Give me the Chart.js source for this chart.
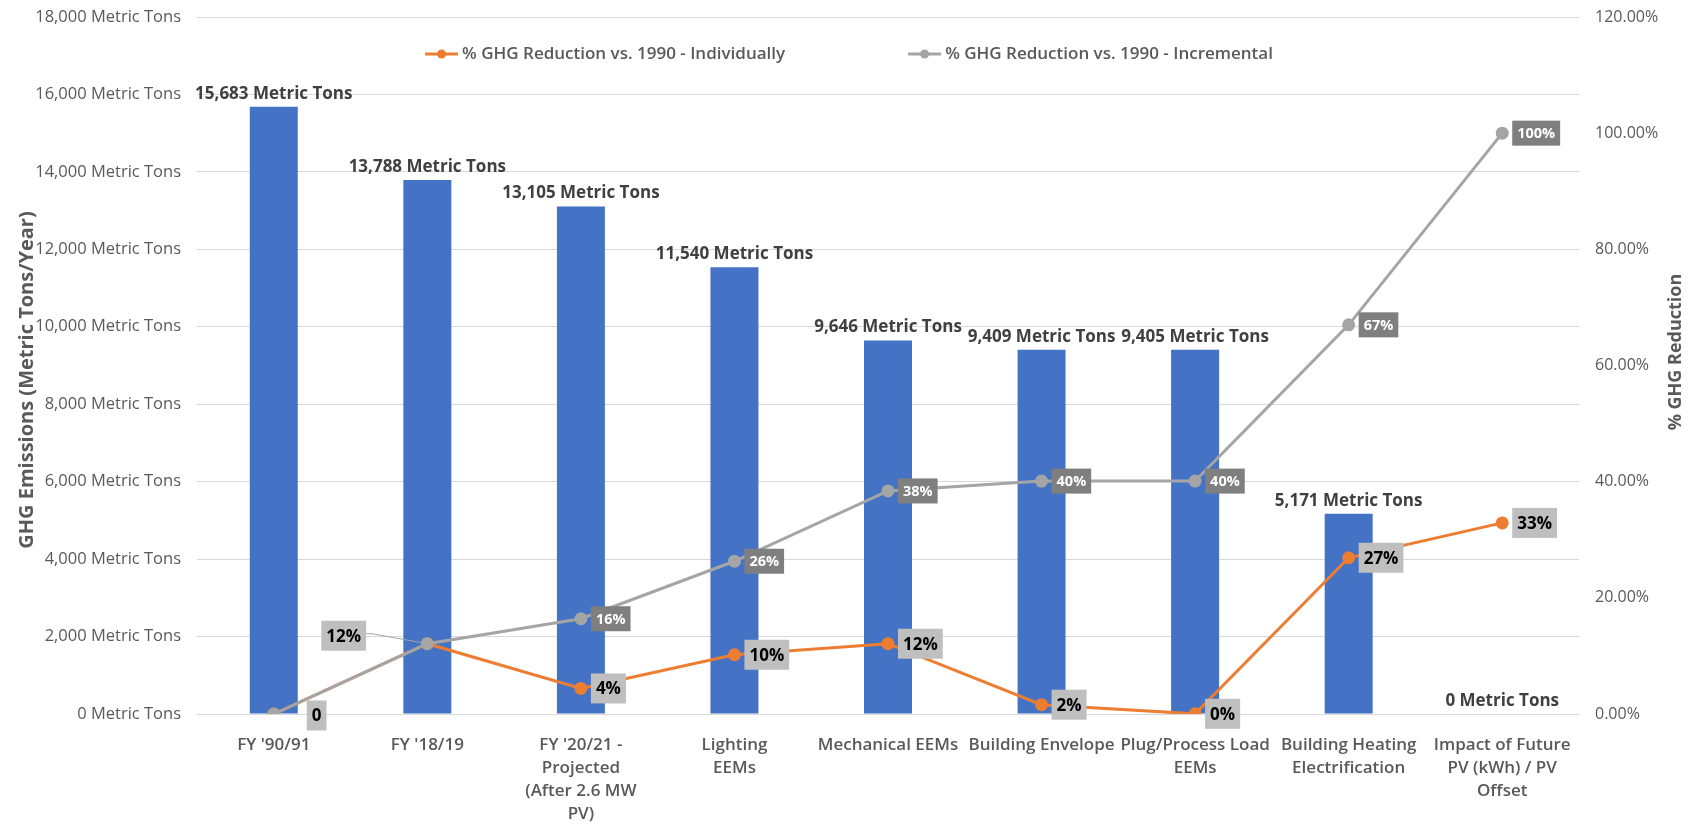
<!DOCTYPE html>
<html>
<head>
<meta charset="utf-8">
<title>GHG Emissions and Reduction</title>
<script src="https://cdn.jsdelivr.net/npm/chart.js@4.4.1/dist/chart.umd.min.js"></script>
<style>
  html, body { margin: 0; padding: 0; background: #ffffff; }
  #wrap { width: 1698px; height: 824px; }
</style>
</head>
<body>
<div id="wrap"><canvas id="chart" width="1698" height="824"></canvas></div>
<script>
// Categories along the x axis (multi-line labels)
const categories = [
  ["FY '90/91"],
  ["FY '18/19"],
  ["FY '20/21 -", "Projected", "(After 2.6 MW", "PV)"],
  ["Lighting", "EEMs"],
  ["Mechanical EEMs"],
  ["Building Envelope"],
  ["Plug/Process Load", "EEMs"],
  ["Building Heating", "Electrification"],
  ["Impact of Future", "PV (kWh) / PV", "Offset"]
];

// Annual GHG emissions, metric tons
const emissions = [15683, 13788, 13105, 11540, 9646, 9409, 9405, 5171, 0];

// % GHG reduction vs. 1990
const reductionIndividual = [0, 12.1, 4.4, 10.2, 12.1, 1.6, 0.03, 26.9, 32.9];
const reductionIncremental = [0, 12.1, 16.4, 26.3, 38.4, 40.1, 40.1, 67.0, 100.0];

// Axis ranges and ticks
const tonsTicks = { min: 0, max: 18000, step: 2000 };
const pctTicks = { min: 0, max: 120, step: 20 };

const seriesNames = [
  '% GHG Reduction vs. 1990 - Individually',
  '% GHG Reduction vs. 1990 - Incremental'
];

const FONT = "'Open Sans', 'Noto Sans', sans-serif";
const TEXT_GREY = '#595959';
const BLUE = '#4472c4';
const ORANGE = '#ed7d31';
const GREY = '#a5a5a5';

const fmtTons = v => Math.round(v).toLocaleString('en-US') + ' Metric Tons';
const fmtPct = v => (v === 0 ? '0' : Math.round(v) + '%');

// Label placement tweaks for the "Individually" series (keyed by point index)
const individualLabelPlacement = {
  0: { dx: 33, dy: 1.5 },
  1: { dx: -106, dy: -8, leader: true }
};

function drawBoxLabel(ctx, text, x, y, opts) {
  ctx.save();
  ctx.font = opts.font;
  const w = ctx.measureText(text).width + opts.padX * 2;
  const h = opts.height;
  const left = x;
  const top = y - h / 2;
  ctx.fillStyle = opts.bg;
  ctx.fillRect(left, top, w, h);
  ctx.fillStyle = opts.color;
  ctx.textAlign = 'center';
  ctx.textBaseline = 'middle';
  ctx.fillText(text, left + w / 2, y + 1);
  ctx.restore();
  return { left, top, w, h };
}

const labelsPlugin = {
  id: 'valueLabels',
  afterDatasetsDraw(chart) {
    const ctx = chart.ctx;
    // Bar value labels
    const barMeta = chart.getDatasetMeta(0);
    ctx.save();
    ctx.font = `bold 17px ${FONT}`;
    ctx.fillStyle = '#404040';
    ctx.textAlign = 'center';
    ctx.textBaseline = 'middle';
    barMeta.data.forEach((bar, i) => {
      ctx.fillText(fmtTons(emissions[i]), bar.x, bar.y - 13);
    });
    ctx.restore();

    // Incremental series labels (skip where both series share the point)
    const incMeta = chart.getDatasetMeta(2);
    incMeta.data.forEach((pt, i) => {
      if (reductionIncremental[i] === reductionIndividual[i]) return;
      drawBoxLabel(ctx, fmtPct(reductionIncremental[i]), pt.x + 10, pt.y, {
        font: `bold 14.5px ${FONT}`, padX: 5, height: 25, bg: '#7f7f7f', color: '#ffffff'
      });
    });

    // Individual series labels
    const indMeta = chart.getDatasetMeta(1);
    indMeta.data.forEach((pt, i) => {
      const p = individualLabelPlacement[i] || { dx: 10, dy: 0 };
      const box = drawBoxLabel(ctx, fmtPct(reductionIndividual[i]), pt.x + p.dx, pt.y + p.dy, {
        font: `bold 17px ${FONT}`, padX: 5, height: 30, bg: '#bfbfbf', color: '#000000'
      });
      if (p.leader) {
        ctx.save();
        ctx.strokeStyle = '#a6a6a6';
        ctx.lineWidth = 1;
        ctx.beginPath();
        const ly = box.top + box.h / 2 - 2;
        ctx.moveTo(box.left + box.w, ly);
        ctx.lineTo(box.left + box.w + 6, ly);
        ctx.lineTo(pt.x, pt.y);
        ctx.stroke();
        ctx.restore();
      }
    });
  }
};

const decorPlugin = {
  id: 'decor',
  beforeDraw(chart) {
    const ctx = chart.ctx;
    ctx.save();
    ctx.fillStyle = '#ffffff';
    ctx.fillRect(0, 0, chart.width, chart.height);
    ctx.restore();
  },
  afterDraw(chart) {
    const ctx = chart.ctx;
    // Axis titles (both read bottom-to-top)
    ctx.save();
    ctx.font = `bold 20px ${FONT}`;
    ctx.fillStyle = TEXT_GREY;
    ctx.textAlign = 'center';
    ctx.textBaseline = 'middle';
    ctx.translate(27, 380);
    ctx.rotate(-Math.PI / 2);
    ctx.fillText('GHG Emissions (Metric Tons/Year)', 0, 0);
    ctx.restore();

    ctx.save();
    ctx.font = `bold 18px ${FONT}`;
    ctx.fillStyle = TEXT_GREY;
    ctx.textAlign = 'center';
    ctx.textBaseline = 'middle';
    ctx.translate(1676, 352);
    ctx.rotate(-Math.PI / 2);
    ctx.fillText('% GHG Reduction', 0, 0);
    ctx.restore();

    // Legend
    const items = [
      { text: seriesNames[0], color: ORANGE },
      { text: seriesNames[1], color: GREY }
    ];
    ctx.save();
    ctx.font = `600 17px ${FONT}`;
    const markerW = 33, markerGap = 4, itemGap = 123;
    const widths = items.map(it => markerW + markerGap + ctx.measureText(it.text).width);
    const total = widths.reduce((a, b) => a + b, 0) + itemGap * (items.length - 1);
    let x = chart.width / 2 - total / 2;
    const y = 54;
    items.forEach((it, k) => {
      ctx.strokeStyle = it.color;
      ctx.fillStyle = it.color;
      ctx.lineWidth = 3;
      ctx.beginPath();
      ctx.moveTo(x, y);
      ctx.lineTo(x + markerW, y);
      ctx.stroke();
      ctx.beginPath();
      ctx.arc(x + markerW / 2, y, 4.5, 0, Math.PI * 2);
      ctx.fill();
      ctx.fillStyle = TEXT_GREY;
      ctx.textAlign = 'left';
      ctx.textBaseline = 'middle';
      ctx.fillText(it.text, x + markerW + markerGap, y);
      x += widths[k] + itemGap;
    });
    ctx.restore();
  }
};

// Fixed axis box sizes, without extra label overhang padding
const fixSize = (prop, size) => scale => {
  scale[prop] = size;
  scale.paddingTop = 0;
  scale.paddingBottom = 0;
  scale.paddingLeft = 0;
  scale.paddingRight = 0;
};

new Chart(document.getElementById('chart'), {
  type: 'bar',
  data: {
    labels: categories,
    datasets: [
      {
        label: 'GHG Emissions',
        data: emissions,
        backgroundColor: BLUE,
        borderWidth: 0,
        categoryPercentage: 1,
        barPercentage: 0.3125,
        yAxisID: 'y',
        order: 3
      },
      {
        type: 'line',
        label: seriesNames[0],
        data: reductionIndividual,
        borderColor: ORANGE,
        backgroundColor: ORANGE,
        pointBackgroundColor: ORANGE,
        pointBorderColor: ORANGE,
        borderWidth: 3,
        pointRadius: 5,
        tension: 0,
        yAxisID: 'y2',
        order: 2
      },
      {
        type: 'line',
        label: seriesNames[1],
        data: reductionIncremental,
        borderColor: GREY,
        backgroundColor: GREY,
        pointBackgroundColor: GREY,
        pointBorderColor: GREY,
        borderWidth: 3,
        pointRadius: 5,
        tension: 0,
        yAxisID: 'y2',
        order: 1
      }
    ]
  },
  options: {
    responsive: false,
    animation: false,
    devicePixelRatio: 1,
    layout: { padding: { top: 17, left: 0, right: 0, bottom: 0 } },
    plugins: {
      legend: { display: false },
      tooltip: { enabled: false },
      title: { display: false }
    },
    scales: {
      x: {
        grid: { display: false, drawTicks: false },
        border: { display: false },
        ticks: {
          autoSkip: false,
          maxRotation: 0,
          minRotation: 0,
          padding: 20,
          color: TEXT_GREY,
          font: { family: FONT, size: 17, weight: '600', lineHeight: 1.35 }
        },
        afterFit: fixSize('height', 110)
      },
      y: {
        position: 'left',
        min: tonsTicks.min,
        max: tonsTicks.max,
        grid: { color: '#d9d9d9', lineWidth: 1, drawTicks: false },
        border: { display: false },
        ticks: {
          stepSize: tonsTicks.step,
          padding: 16,
          color: TEXT_GREY,
          font: { family: FONT, size: 16.5 },
          callback: v => fmtTons(v)
        },
        afterFit: fixSize('width', 197)
      },
      y2: {
        position: 'right',
        min: pctTicks.min,
        max: pctTicks.max,
        grid: { drawOnChartArea: false, drawTicks: false },
        border: { display: false },
        ticks: {
          stepSize: pctTicks.step,
          padding: 16,
          color: TEXT_GREY,
          font: { family: FONT, size: 16 },
          callback: v => v.toFixed(2) + '%'
        },
        afterFit: fixSize('width', 119)
      }
    }
  },
  plugins: [decorPlugin, labelsPlugin]
});
</script>
</body>
</html>
